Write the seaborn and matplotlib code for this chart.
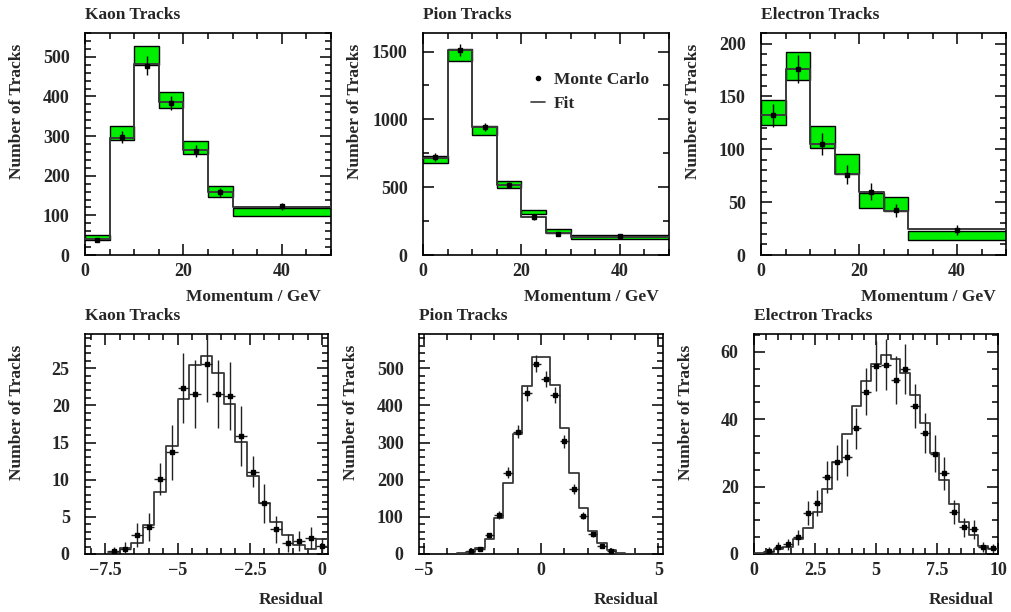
import numpy as np
import matplotlib
matplotlib.use("Agg")
import matplotlib.pyplot as plt
import seaborn as sns
from matplotlib.ticker import MultipleLocator, FuncFormatter
from matplotlib.lines import Line2D

# ---------------- data ----------------
mom_edges = [0, 5, 10, 15, 20, 25, 30, 50]
mom_centers = [2.5, 7.5, 12.5, 17.5, 22.5, 27.5, 40]

kaon_mc = [38, 298, 478, 384, 263, 158, 123]
kaon_err = [6, 15, 25, 17, 15, 12, 9]
kaon_fit = [41, 296, 481, 385, 265, 158, 121]
kaon_lo = [37, 290, 479, 372, 255, 146, 99]
kaon_hi = [50, 325, 526, 412, 288, 173, 119]

pion_mc = [722, 1510, 946, 516, 278, 155, 142]
pion_err = [27, 45, 30, 22, 17, 12, 12]
pion_fit = [715, 1510, 945, 516, 280, 160, 136]
pion_lo = [676, 1433, 887, 496, 300, 160, 116]
pion_hi = [730, 1517, 951, 543, 334, 194, 147]

elec_mc = [132, 176, 105, 76, 60, 42.4, 23.7]
elec_err = [11, 13, 10, 9, 8, 6, 5]
elec_fit = [132, 176, 105, 77, 60, 41.3, 24.3]
elec_lo = [122.7, 165.6, 101, 76.4, 44.2, 41.3, 14]
elec_hi = [146.7, 192, 121.8, 95.3, 58.7, 55.2, 22.3]

# residual distributions
kres_edges = [-7.4, -7.0, -6.6, -6.2, -5.8, -5.4, -5.0, -4.6, -4.2, -3.8,
              -3.4, -3.0, -2.6, -2.2, -1.8, -1.4, -1.0, -0.6, -0.2, 0.2]
kres_fit = [0.27, 0.8, 1.5, 3.85, 8.3, 14.5, 20.8, 25.4, 26.6, 24.4,
            20.2, 15.1, 10.5, 6.9, 4.3, 2.5, 1.2, 0.7, 2.0]
kres_x = [-7.2, -6.8, -6.4, -6.0, -5.6, -5.2, -4.8, -4.4, -4.0, -3.6,
          -3.2, -2.8, -2.4, -2.0, -1.6, -1.2, -0.8, -0.4, 0.0]
kres_mc = [0.36, 0.7, 2.55, 3.6, 10.1, 13.7, 22.3, 21.5, 25.5, 21.5,
           21.3, 15.9, 11.1, 6.8, 3.3, 1.5, 1.8, 2.2, 1.1]
kres_err = [0.6, 0.85, 1.6, 1.9, 2.2, 3.7, 4.7, 4.6, 5.05, 4.6,
            4.6, 4.0, 2.1, 2.6, 1.8, 1.2, 1.35, 1.5, 1.05]

pres_edges = [-3.6, -3.2, -2.8, -2.4, -2.0, -1.6, -1.2, -0.8, -0.4, 0.0,
              0.4, 0.8, 1.2, 1.6, 2.0, 2.4, 2.8, 3.2, 3.6, 4.0]
pres_fit = [2, 6, 15, 40, 96, 192, 323, 451, 531, 531,
            456, 339, 218, 123, 62, 29, 11, 4, 1]
pres_x = [-3.0, -2.6, -2.2, -1.8, -1.4, -1.0, -0.6, -0.2, 0.2, 0.6,
          1.0, 1.4, 1.8, 2.2, 2.6, 3.0]
pres_mc = [8, 14, 50, 105, 218, 329, 432, 512, 471, 428,
           303, 176, 103, 53, 22, 9]
pres_err = [2.8, 3.7, 7, 10.2, 14.8, 18.1, 20.8, 22.6, 21.7, 20.7,
            17.4, 13.3, 10.1, 7.3, 4.7, 3]

eres_edges = [0.0, 0.4, 0.8, 1.2, 1.6, 2.0, 2.4, 2.8, 3.2, 3.6, 4.0, 4.4, 4.8,
              5.2, 5.6, 6.0, 6.4, 6.8, 7.2, 7.6, 8.0, 8.4, 8.8, 9.2, 9.6, 10.0]
eres_fit = [0.2, 0.7, 1.4, 2.2, 4.4, 7.8, 12.6, 19.3, 27.3, 35.5, 43.9, 51.3,
            56.5, 59.0, 57.8, 53.8, 47.1, 38.9, 30.0, 22.0, 14.9, 9.4, 5.7, 2.5, 1.4]
eres_x = [0.6, 1.0, 1.4, 1.8, 2.2, 2.6, 3.0, 3.4, 3.8, 4.2, 4.6, 5.0,
          5.4, 5.8, 6.2, 6.6, 7.0, 7.4, 7.8, 8.2, 8.6, 9.0, 9.4, 9.8]
eres_mc = [1.0, 2.2, 2.9, 4.9, 12.1, 15.1, 22.8, 27.2, 28.7, 37.3, 48.2, 55.8,
           56.2, 51.6, 55.0, 43.9, 35.9, 29.8, 24.0, 12.4, 7.9, 7.3, 2.2, 1.7]
eres_err = [1.0, 1.5, 1.7, 2.2, 3.5, 3.9, 4.8, 5.2, 5.4, 6.1, 6.9, 7.5,
            7.5, 7.2, 7.4, 6.6, 6.0, 5.5, 4.9, 3.5, 2.8, 2.7, 1.5, 1.3]

titles = ["Kaon Tracks", "Pion Tracks", "Electron Tracks"]

# ---------------- style ----------------
sns.set_theme(style="ticks")
plt.rcParams['font.family'] = ['Liberation Serif', 'DejaVu Serif']
plt.rcParams['font.weight'] = 'bold'
plt.rcParams['axes.labelweight'] = 'bold'
plt.rcParams['axes.titleweight'] = 'bold'
plt.rcParams['axes.unicode_minus'] = True

GREEN = '#00ee00'
FITC = '#3a3a3a'
FS = 12.5
TFS = 13

W, H = 1011, 612
fig = plt.figure(figsize=(W / 100, H / 100), dpi=100)


def add_ax(x0, y0, x1, y1):
    return fig.add_axes([x0 / W, 1 - y1 / H, (x1 - x0) / W, (y1 - y0) / H])


def fmt(v, pos):
    s = ('%g' % round(v, 3))
    return s.replace('-', '\u2212')


def style_ax(ax, title, xlab, xmaj, xmin, ymaj, ymin, xlab_x, xlab_y):
    ax.set_title(title, loc='left', fontsize=FS, fontweight='bold', pad=10)
    ax.xaxis.set_major_locator(MultipleLocator(xmaj))
    ax.xaxis.set_minor_locator(MultipleLocator(xmin))
    ax.yaxis.set_major_locator(MultipleLocator(ymaj))
    ax.yaxis.set_minor_locator(MultipleLocator(ymin))
    ax.xaxis.set_major_formatter(FuncFormatter(fmt))
    ax.yaxis.set_major_formatter(FuncFormatter(fmt))
    ax.tick_params(which='both', direction='in', top=True, right=True,
                   color='black', width=1.1)
    ax.tick_params(which='major', length=8)
    ax.tick_params(which='minor', length=4)
    ax.tick_params(axis='y', which='major', pad=11, labelsize=TFS)
    ax.tick_params(axis='x', which='major', pad=6, labelsize=TFS)
    for s in ax.spines.values():
        s.set_visible(True)
        s.set_linewidth(1.2)
        s.set_color('black')
    ax.set_xlabel(xlab, fontsize=FS, fontweight='bold')
    ax.xaxis.label.set_ha('right')
    ax.xaxis.set_label_coords(xlab_x, xlab_y)
    ax.set_ylabel("Number of Tracks", fontsize=FS, fontweight='bold')
    ax.yaxis.label.set_ha('right')
    ax.yaxis.label.set_va('center')
    ax.yaxis.set_label_coords(-68 / ax.bbox.width, 1 - 11 / ax.bbox.height)
    for lab in ax.get_xticklabels() + ax.get_yticklabels():
        lab.set_fontweight('bold')


top_boxes = [(85, 33, 331, 255), (423, 33, 669, 255), (761, 33, 1006, 255)]
bot_boxes = [(85, 334, 328, 554), (419, 334, 663, 554), (754, 334, 998, 554)]

top_sets = [
    (kaon_mc, kaon_err, kaon_fit, kaon_lo, kaon_hi, 560, 100, 20),
    (pion_mc, pion_err, pion_fit, pion_lo, pion_hi, 1637, 500, 250),
    (elec_mc, elec_err, elec_fit, elec_lo, elec_hi, 210, 50, 10),
]

for box, title, (mc, err, fit, lo, hi, ymax, ymaj, ymin) in zip(top_boxes, titles, top_sets):
    ax = add_ax(*box)
    ax.bar(mom_edges[:-1], np.subtract(hi, lo), width=np.diff(mom_edges),
           bottom=lo, align='edge', color=GREEN, edgecolor='black',
           linewidth=1.0, zorder=2)
    sns.histplot(x=mom_centers, weights=fit, bins=mom_edges, element='step',
                 fill=False, color=FITC, linewidth=1.4, ax=ax, zorder=3)
    ax.errorbar(mom_centers, mc, yerr=err, fmt='s', ms=3, color='black',
                ecolor='black', elinewidth=1.0, capsize=0, zorder=4)
    ax.set_xlim(0, 50)
    ax.set_ylim(0, ymax)
    style_ax(ax, title, "Momentum / GeV", 20, 5, ymaj, ymin, 0.96, -0.155)
    if title == "Pion Tracks":
        handles = [Line2D([], [], marker='o', ms=3, ls='none', color='black'),
                   Line2D([], [], color=FITC, lw=1.2)]
        leg = ax.legend(handles, ["Monte Carlo", "Fit"], loc='upper left',
                        bbox_to_anchor=(0.44, 0.825), frameon=False,
                        fontsize=FS, handlelength=0.8, handletextpad=0.5,
                        labelspacing=0.45, borderaxespad=0, borderpad=0)
        for t in leg.get_texts():
            t.set_fontweight('bold')

bot_sets = [
    (kres_edges, kres_fit, kres_x, kres_mc, kres_err, (-8.2, 0.2), 29.6, 2.5, 0.5, 5, 1),
    (pres_edges, pres_fit, pres_x, pres_mc, pres_err, (-5.2, 5.2), 592, 5, 1, 100, 20),
    (eres_edges, eres_fit, eres_x, eres_mc, eres_err, (0, 10), 65.3, 2.5, 0.5, 20, 5),
]

for box, title, (edges, fit, xs, mc, err, xlim, ymax, xmaj, xmin, ymaj, ymin) in zip(bot_boxes, titles, bot_sets):
    ax = add_ax(*box)
    centers = (np.array(edges[:-1]) + np.array(edges[1:])) / 2
    sns.histplot(x=centers, weights=fit, bins=edges, element='step',
                 fill=False, color=FITC, linewidth=1.3, ax=ax, zorder=3)
    ax.errorbar(xs, mc, yerr=err, xerr=0.2, fmt='s', ms=3, color='black',
                ecolor='#222222', elinewidth=1.0, capsize=0, zorder=4)
    ax.set_xlim(*xlim)
    ax.set_ylim(0, ymax)
    style_ax(ax, title, "Residual", xmaj, xmin, ymaj, ymin, 0.98, -0.175)

fig.savefig("out.png", dpi=100)
